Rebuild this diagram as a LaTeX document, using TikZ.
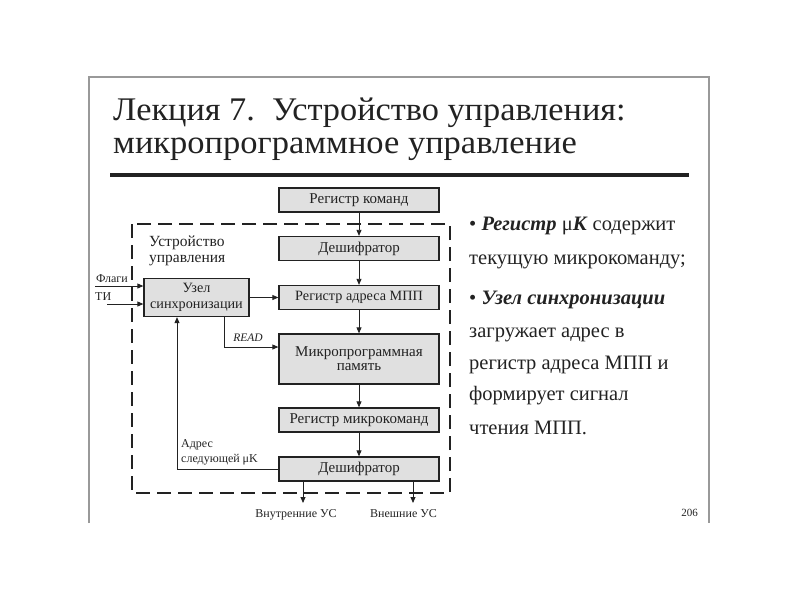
\documentclass[tikz,border=0pt]{standalone}
\usepackage{fontspec}
\setmainfont{Liberation Serif}
\usetikzlibrary{arrows.meta}
\definecolor{ink}{HTML}{222222}
\definecolor{boxfill}{HTML}{E0E0E0}
\begin{document}
\begin{tikzpicture}[x=1pt,y=-1pt,
  blk/.style={draw=ink, line width=1.3pt, fill=boxfill, minimum width=160pt,
    minimum height=24pt, inner sep=0pt, text=ink, align=center,
    font=\fontsize{15}{15}\selectfont},
  arr/.style={-{Triangle[length=6pt,width=5pt]}, line width=0.8pt, draw=ink},
  small/.style={text=ink, font=\fontsize{12}{15}\selectfont, inner sep=0pt},
  bul/.style={text=ink, font=\fontsize{20.5}{24}\selectfont, inner sep=0pt, anchor=base west}]
\useasboundingbox (0,0) rectangle (800,600);
% slide frame
\draw[black!40, line width=1.4pt] (89,523) -- (89,77) -- (709,77) -- (709,523);
% title
\node[anchor=base west, inner sep=0pt, text=ink, font=\fontsize{33}{34}\selectfont] (t1) at (113,120) {\scalebox{1.04}[1]{Лекция 7.\ \ Устройство управления:}};
\node[anchor=base west, inner sep=0pt, text=ink, font=\fontsize{33}{34}\selectfont] (t2) at (113,153) {\scalebox{1.045}[1]{микропрограммное управление}};
\draw[line width=4pt, ink] (110,175) -- (689,175);
% dashed frame
\draw[ink, line width=1.8pt, dash pattern=on 14pt off 7pt] (132,224) rectangle (450,493);
\node[anchor=base west, text=ink, inner sep=0pt, align=left, font=\fontsize{15.5}{16}\selectfont] (ustr) at (149,262) {Устройство\\управления};
% blocks
\node[blk] (rk) at (359,200) {Регистр команд};
\node[blk] (dc1) at (359,248.5) {Дешифратор};
\node[blk, font=\fontsize{14.2}{15}\selectfont] (ra) at (359,297.5) {Регистр адреса МПП};
\node[blk, minimum width=105pt, minimum height=38pt, font=\fontsize{14.2}{15.5}\selectfont] (sync) at (196.5,297.5) {Узел\\синхронизации};
\node[blk, minimum height=50pt, font=\fontsize{15}{14}\selectfont] (mp) at (359,359) {Микропрограммная\\память};
\node[blk] (rm) at (359,420) {Регистр микрокоманд};
\node[blk] (dc2) at (359,469) {Дешифратор};
% vertical flow
\draw[arr] (rk) -- (dc1);
\draw[arr] (dc1) -- (ra);
\draw[arr] (ra) -- (mp);
\draw[arr] (mp) -- (rm);
\draw[arr] (rm) -- (dc2);
% sync
\draw[arr] (sync) -- (ra);
\coordinate (fl) at (95,286);
\coordinate (ti) at (107,304);
\draw[arr] (fl) -- (fl -| sync.west);
\draw[arr] (ti) -- (ti -| sync.west);
\node[small, anchor=base west] (lfl) at (96,282) {Флаги};
\node[small, anchor=base west] (lti) at (95,300.5) {ТИ};
\draw[arr] ([xshift=27.5pt]sync.south) |- ([yshift=12pt]mp.west);
\node[small, font=\fontsize{11.5}{13}\itshape, anchor=base] (lread) at (248,341) {READ};
% feedback
\draw[arr] (dc2.west) -| ([xshift=-19.5pt]sync.south);
\node[small, anchor=base west, align=left] (ladr) at (181,462) {Адрес\\следующей μK};
% outputs
\coordinate (o1) at (303,503);
\coordinate (o2) at (413,503);
\draw[arr] (dc2.south -| o1) -- (o1);
\draw[arr] (dc2.south -| o2) -- (o2);
\node[small, anchor=base] (lo1) at (296,517) {Внутренние УС};
\node[small, anchor=base] (lo2) at (403.5,517) {Внешние УС};
% right text
\node[bul] (b1) at (469,230) {• \textbf{\textit{Регистр}} μ\textbf{\textit{К}} содержит};
\node[bul] (b2) at (469,264) {текущую микрокоманду;};
\node[bul] (b3) at (469,304) {• \textbf{\textit{Узел синхронизации}}};
\node[bul] (b4) at (469,337) {загружает адрес в};
\node[bul] (b5) at (469,369) {регистр адреса МПП и};
\node[bul] (b6) at (469,400) {формирует сигнал};
\node[bul] (b7) at (469,434) {чтения МПП.};
% page number
\node[small, anchor=base east, font=\fontsize{11}{13}\selectfont] (pg) at (698,516) {206};
\end{tikzpicture}
\end{document}
